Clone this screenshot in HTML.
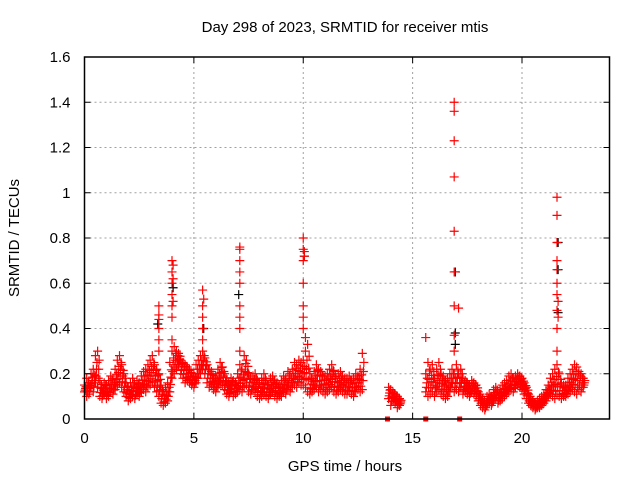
<!DOCTYPE html>
<html><head><meta charset="utf-8"><style>
body{margin:0;background:#fff}
svg{display:block;font-family:"Liberation Sans",sans-serif}
</style></head><body>
<svg id="chart" width="640" height="480">
<text x="345" y="32" font-size="15" text-anchor="middle">Day 298 of 2023, SRMTID for receiver mtis</text>
<text x="345" y="471" font-size="15" text-anchor="middle">GPS time / hours</text>
<text transform="translate(19,238) rotate(-90)" font-size="15" text-anchor="middle">SRMTID / TECUs</text>
<g id="grid"></g><g id="marks"></g><g id="axes"></g>
</svg>
<script>
const xTicks=[0,5,10,15,20];
const yTicks=[0,0.2,0.4,0.6,0.8,1,1.2,1.4,1.6];
const yTickLabels=["0","0.2","0.4","0.6","0.8","1","1.2","1.4","1.6"];
const n=null;
const loVals=[
0.12,0.10,0.11,0.14,0.12,0.16,0.14,0.10,0.09,0.11,
0.09,0.10,0.12,0.11,0.13,0.15,0.16,0.14,0.12,0.10,
0.08,0.09,0.10,0.09,0.11,0.10,0.12,0.13,0.12,0.14,
0.15,0.16,0.14,0.12,0.10,0.07,0.06,0.07,0.08,0.12,
0.18,0.20,0.22,0.24,0.20,0.18,0.16,0.17,0.16,0.15,
0.14,0.16,0.18,0.20,0.22,0.20,0.16,0.14,0.15,0.13,
0.12,0.14,0.16,0.15,0.13,0.11,0.10,0.12,0.10,0.11,
0.12,0.13,0.12,0.14,0.15,0.12,0.11,0.13,0.12,0.10,
0.09,0.10,0.11,0.10,0.09,0.11,0.12,0.10,0.09,0.10,
0.10,0.12,0.11,0.13,0.12,0.14,0.15,0.14,0.16,0.15,
0.15,0.14,0.12,0.11,0.12,0.13,0.14,0.12,0.13,0.12,
0.11,0.12,0.13,0.14,0.12,0.11,0.12,0.13,0.12,0.11,
0.11,0.12,0.11,0.10,0.12,0.13,0.12,0.13,n,n,
n,n,n,n,n,n,n,n,n,0.09,
0.06,0.08,0.07,0.05,0.06,n,n,n,n,n,
n,n,n,n,n,n,0.12,0.10,0.11,0.12,
0.10,0.12,0.13,0.11,0.10,0.09,0.10,0.12,0.14,0.12,
0.13,0.12,0.14,0.11,0.12,0.11,0.10,0.12,0.11,0.10,
0.08,0.06,0.05,0.04,0.06,0.07,0.06,0.08,0.09,0.07,
0.08,0.09,0.10,0.11,0.12,0.13,0.12,0.14,0.15,0.14,
0.13,0.11,0.09,0.07,0.06,0.05,0.04,0.05,0.05,0.06,
0.07,0.08,0.10,0.11,0.10,0.09,0.11,0.10,0.09,0.10,
0.10,0.11,0.12,0.13,0.12,0.11,0.13,0.12,0.14];
const hiVals=[
0.15,0.18,0.16,0.20,0.22,0.28,0.30,0.17,0.14,0.16,
0.15,0.17,0.19,0.18,0.22,0.26,0.28,0.24,0.20,0.16,
0.14,0.16,0.18,0.15,0.17,0.16,0.19,0.21,0.22,0.24,
0.26,0.28,0.24,0.22,0.20,0.15,0.12,0.14,0.16,0.25,
0.30,0.32,0.30,0.29,0.26,0.25,0.24,0.23,0.22,0.20,
0.20,0.24,0.26,0.28,0.30,0.27,0.24,0.22,0.21,0.18,
0.19,0.22,0.25,0.23,0.20,0.17,0.16,0.18,0.17,0.16,
0.20,0.24,0.22,0.28,0.26,0.20,0.18,0.19,0.20,0.17,
0.16,0.18,0.20,0.17,0.15,0.18,0.19,0.17,0.16,0.15,
0.17,0.19,0.18,0.21,0.20,0.22,0.25,0.24,0.26,0.25,
0.26,0.30,0.33,0.20,0.18,0.21,0.24,0.22,0.21,0.19,
0.19,0.20,0.22,0.24,0.21,0.18,0.20,0.21,0.19,0.18,
0.18,0.19,0.17,0.18,0.20,0.19,0.22,0.29,n,n,
n,n,n,n,n,n,n,n,n,0.14,
0.13,0.12,0.11,0.10,0.09,n,n,n,n,n,
n,n,n,n,n,n,0.20,0.25,0.22,0.24,
0.18,0.22,0.25,0.20,0.19,0.17,0.18,0.20,0.22,0.20,
0.24,0.20,0.22,0.18,0.17,0.16,0.15,0.17,0.16,0.15,
0.12,0.10,0.09,0.08,0.10,0.11,0.10,0.13,0.14,0.12,
0.13,0.15,0.16,0.17,0.19,0.20,0.18,0.19,0.20,0.19,
0.18,0.16,0.14,0.11,0.09,0.08,0.07,0.08,0.09,0.10,
0.11,0.13,0.15,0.18,0.20,0.22,0.24,0.20,0.16,0.15,
0.15,0.18,0.20,0.22,0.24,0.23,0.21,0.20,0.18];
const spikeTimes=[3.4,3.4,3.4,3.4,3.4,3.4,4.0,4.0,4.0,4.0,4.0,4.0,4.0,4.05,4.05,4.05,5.4,5.4,5.4,5.4,5.4,5.45,7.1,7.1,7.1,7.1,7.1,7.1,7.1,7.1,7.1,10.0,10.0,10.0,10.0,10.0,10.0,10.0,10.05,10.05,10.1,15.6,17.1,16.9,16.9,16.9,16.9,16.9,16.9,16.9,16.9,16.9,21.6,21.6,21.6,21.6,21.6,21.6,21.6,21.6,21.6,21.6,21.65,21.65];
const spikeVals=[0.3,0.35,0.4,0.44,0.5,0.46,0.35,0.45,0.5,0.55,0.6,0.65,0.7,0.68,0.62,0.52,0.35,0.4,0.45,0.5,0.57,0.53,0.3,0.4,0.45,0.5,0.6,0.65,0.7,0.76,0.75,0.4,0.45,0.5,0.6,0.7,0.75,0.8,0.74,0.72,0.36,0.36,0.49,0.3,0.37,0.5,0.65,0.83,1.07,1.23,1.36,1.4,0.3,0.4,0.48,0.55,0.6,0.66,0.7,0.78,0.9,0.98,0.45,0.52];
const blackTimes=[3.35,4.05,5.45,7.05,10.05,16.95,16.95,16.95,21.65,21.65,21.65];
const blackVals=[0.42,0.58,0.4,0.55,0.72,0.38,0.65,0.33,0.47,0.66,0.78];
const zeroTimes=[13.85,15.6,17.15];
const zeroVals=[0,0,0];

const X0=84.5,X1=609.5,Y0=419,Y1=57;
const xs=v=>X0+(v-0)/(24-0)*(X1-X0);
const ys=v=>Y0-(v-0)/(1.6-0)*(Y0-Y1);
const NS="http://www.w3.org/2000/svg";
const grid=document.getElementById('grid'),marks=document.getElementById('marks'),axes=document.getElementById('axes');
function mk(tag,attrs,parent){const e=document.createElementNS(NS,tag);for(const k in attrs)e.setAttribute(k,attrs[k]);parent.appendChild(e);return e;}
xTicks.forEach(t=>{
 const x=xs(t);
 if(t>0){const g=mk('line',{x1:x,x2:x,y1:Y0,y2:Y1,stroke:'#a0a0a0','stroke-dasharray':'2,3'},grid);
 
 }
 const tk=mk('line',{x1:x,x2:x,y1:Y0,y2:Y0-6,stroke:'#000'},axes);
 
 
 mk('line',{x1:x,x2:x,y1:Y1,y2:Y1+6,stroke:'#000'},axes);
 const lb=mk('text',{x:x,y:Y0+24,'font-size':15,'text-anchor':'middle'},axes);lb.textContent=String(t);
 
 
});
yTicks.forEach((t,i)=>{
 const y=ys(t);
 if(t>0&&t<1.6){const g=mk('line',{x1:X0,x2:X1,y1:y,y2:y,stroke:'#a0a0a0','stroke-dasharray':'2,3'},grid);
 
 }
 const tk=mk('line',{x1:X0,x2:X0+6,y1:y,y2:y,stroke:'#000'},axes);
 
 
 mk('line',{x1:X1,x2:X1-6,y1:y,y2:y,stroke:'#000'},axes);
 const lb=mk('text',{x:X0-14,y:y+5,'font-size':15,'text-anchor':'end'},axes);lb.textContent=yTickLabels[i];
 
 
});
const fr=mk('rect',{x:X0,y:Y1,width:X1-X0,height:Y0-Y1,fill:'none',stroke:'#000','stroke-width':1.5},axes);


function plus(t,v,col,name){
 if(v===null||v===undefined)return;
 const x=xs(t),y=ys(v);
 const p=mk('path',{d:`M${x-4.5},${y}H${x+4.5}M${x},${y-4.5}V${y+4.5}`,stroke:col,'stroke-width':1.2,fill:'none'},marks);
 
 
}
blackTimes.forEach((t,i)=>plus(t,blackVals[i],'#000','black-point'));
loVals.forEach((v,i)=>{
 const t=i*0.1;
 plus(t,v,'#f00','red-point');
 plus(t,hiVals[i],'#f00','red-point');
 if(v!==null&&hiVals[i]!==null){
  plus(t+0.05,(v+hiVals[i])/2,'#f00','red-point');
  plus(t+0.03,v+(hiVals[i]-v)*0.25,'#f00','red-point');
  plus(t+0.07,v+(hiVals[i]-v)*0.75,'#f00','red-point');
 }
});
spikeTimes.forEach((t,i)=>plus(t,spikeVals[i],'#f00','spike-point'));
zeroTimes.forEach((t,i)=>{
 const r=mk('rect',{x:xs(t)-2.5,y:ys(zeroVals[i])-2.5,width:5,height:5,fill:'#f00'},marks);
 
 
});
</script>
</body></html>
